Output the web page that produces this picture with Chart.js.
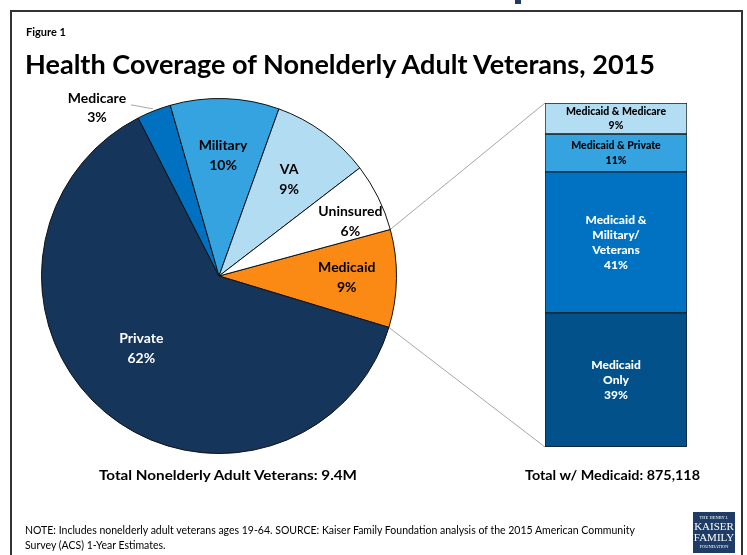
<!DOCTYPE html>
<html>
<head>
<meta charset="utf-8">
<script src="https://cdn.jsdelivr.net/npm/chart.js@4.4.1/dist/chart.umd.min.js"></script>
<style>
  body { margin: 0; background: #fff; font-family: Lato, "Open Sans", sans-serif; }
  #page { position: relative; width: 747px; height: 555px; overflow: hidden; background: #fff; }
  .abs { position: absolute; white-space: nowrap; }
  #frame { position: absolute; left: 10px; top: 10px; width: 729px; height: 560px; border: 2px solid #333; }
  #figno { left: 26px; top: 25px; font-size: 11px; font-weight: bold; color: #000; }
  #title { left: 25px; top: 47px; font-size: 27px; font-weight: bold; color: #000; transform-origin: left top; }
  #totalL { left: 99px; top: 467px; font-size: 13px; font-weight: bold; transform-origin: left top; }
  #totalR { left: 525px; top: 467px; font-size: 13px; font-weight: bold; transform-origin: left top; }
  #note { left: 25px; top: 523px; font-size: 10.5px; line-height: 15px; color: #000; transform-origin: left top; }
  #logo { left: 693px; top: 512px; width: 42px; height: 41px; background: #1e3c66; color: #fff;
          font-family: "Liberation Serif", serif; text-align: center; }
  #logo .s { font-size: 4.5px; line-height: 6px; margin-top: 3px; }
  #logo .b { font-size: 11px; line-height: 11px; }
  #topcut { left: 515px; top: 0; width: 6px; height: 4px; background: #1e3c66; }
  canvas { position: absolute; }
</style>
</head>
<body>
<div id="page">
  <canvas id="lines" width="747" height="555" style="left:0;top:0"></canvas>
  <div id="frame"></div>
  <div class="abs" id="topcut"></div>
  <div class="abs" id="figno">Figure 1</div>
  <div class="abs" id="title">Health Coverage of Nonelderly Adult Veterans, 2015</div>
  <canvas id="pie" width="380" height="380" style="left:29px;top:86px"></canvas>
  <canvas id="bar" width="142" height="344" style="left:545px;top:103px"></canvas>
  <div class="abs" id="totalL">Total Nonelderly Adult Veterans: 9.4M</div>
  <div class="abs" id="totalR">Total w/ Medicaid: 875,118</div>
  <div class="abs" id="note">NOTE: Includes nonelderly adult veterans ages 19-64. SOURCE: Kaiser Family Foundation analysis of the 2015 American Community<br>Survey (ACS) 1-Year Estimates.</div>
  <div class="abs" id="logo"><div class="s">THE HENRY J.</div><div class="b">KAISER</div><div class="b">FAMILY</div><div class="s" style="margin-top:1px">FOUNDATION</div></div>
</div>
<script>
// pie: all nonelderly adult veterans (share, %)
const pieLabels = ["Medicaid", "Private", "Medicare", "Military", "VA", "Uninsured"];
const pieValues = [8.9, 62.8, 3.1, 9.9, 9.1, 6.2];
const pieText = ["9%", "62%", "3%", "10%", "9%", "6%"];
const pieColors = ["#fb8a15", "#15355a", "#0071c1", "#34a3e0", "#b1dcf2", "#ffffff"];

// bar: veterans with Medicaid, bottom to top
const barLabels = [["Medicaid", "Only"], ["Medicaid &", "Military/", "Veterans"], ["Medicaid & Private"], ["Medicaid & Medicare"]];
const barValues = [39, 41, 11, 9];
const barText = ["39%", "41%", "11%", "9%"];
const barColors = ["#03518a", "#0072c1", "#34a3e0", "#b3ddf3"];
const barTextColors = ["#fff", "#fff", "#000", "#000"];

// where each pie label sits: radius factor and angle shift (deg)
const pieLabelPos = [[0.72, 0], [0.6, 7], [null, 0], [0.68, 0], [0.67, 0], [0.8, 4]];
const pieTextColors = ["#000", "#fff", "#000", "#000", "#000", "#000"];

const pieLabelPlugin = {
  id: "pieLabels",
  afterDatasetsDraw(chart) {
    const ctx = chart.ctx;
    const arcs = chart.getDatasetMeta(0).data;
    ctx.save();
    ctx.font = "bold 14px Lato";
    ctx.textAlign = "center";
    ctx.textBaseline = "middle";
    arcs.forEach((arc, i) => {
      const mid = (arc.startAngle + arc.endAngle) / 2;
      const r = arc.outerRadius;
      const pos = pieLabelPos[i];
      if (pos[0] === null) {
        // outside label with a leader line (Medicare)
        const px = arc.x + r * Math.cos(mid), py = arc.y + r * Math.sin(mid);
        ctx.strokeStyle = "#a6a6a6";
        ctx.lineWidth = 1;
        ctx.beginPath();
        ctx.moveTo(px - 1, py - 2);
        ctx.lineTo(px - 23, py - 6);
        ctx.stroke();
        ctx.fillStyle = pieTextColors[i];
        ctx.fillText(pieLabels[i], px - 57, py - 12);
        ctx.fillText(pieText[i], px - 57, py + 7);
        return;
      }
      const a = mid + pos[1] * Math.PI / 180;
      const lx = arc.x + r * pos[0] * Math.cos(a);
      const ly = arc.y + r * pos[0] * Math.sin(a);
      ctx.fillStyle = pieTextColors[i];
      ctx.fillText(pieLabels[i], lx, ly - 10);
      ctx.fillText(pieText[i], lx, ly + 10);
    });
    ctx.restore();
  }
};

const barLabelPlugin = {
  id: "barLabels",
  afterDatasetsDraw(chart) {
    const ctx = chart.ctx;
    ctx.save();
    ctx.textAlign = "center";
    ctx.textBaseline = "middle";
    chart.data.datasets.forEach((ds, i) => {
      const bar = chart.getDatasetMeta(i).data[0];
      const lines = barLabels[i].concat([barText[i]]);
      const lh = i < 2 ? 15 : 14.5;
      ctx.font = i < 2 ? "900 12px Lato" : "900 10.5px Lato";
      ctx.fillStyle = barTextColors[i];
      const cy = (bar.y + bar.base) / 2;
      lines.forEach((t, k) => {
        ctx.fillText(t, bar.x, cy + (k - (lines.length - 1) / 2) * lh);
      });
    });
    ctx.restore();
  }
};

const pieChart = new Chart(document.getElementById("pie"), {
  type: "pie",
  data: {
    labels: pieLabels,
    datasets: [{
      data: pieValues,
      backgroundColor: pieColors,
      borderColor: "#111",
      borderWidth: 1
    }]
  },
  options: {
    responsive: false,
    animation: false,
    rotation: 74.8,
    layout: { padding: 12 },
    plugins: { legend: { display: false }, tooltip: { enabled: false } }
  },
  plugins: [pieLabelPlugin]
});

const barChart = new Chart(document.getElementById("bar"), {
  type: "bar",
  data: {
    labels: ["Medicaid"],
    datasets: barValues.map((v, i) => ({
      label: barLabels[i].join(" "),
      data: [v],
      backgroundColor: barColors[i],
      borderColor: "#1b1b1b",
      borderWidth: 1,
      borderSkipped: false,
      categoryPercentage: 1,
      barPercentage: 1
    }))
  },
  options: {
    responsive: false,
    animation: false,
    layout: { padding: 0 },
    scales: {
      x: { stacked: true, display: false },
      y: { stacked: true, display: false, min: 0, max: 100 }
    },
    plugins: { legend: { display: false }, tooltip: { enabled: false } }
  },
  plugins: [barLabelPlugin]
});

// connector lines from the Medicaid slice to the bar
function drawConnectors() {
  const ctx = document.getElementById("lines").getContext("2d");
  const pc = document.getElementById("pie"), bc = document.getElementById("bar");
  const arc = pieChart.getDatasetMeta(0).data[0];
  const r = arc.outerRadius;
  const ox = pc.offsetLeft, oy = pc.offsetTop;
  const p1 = [ox + arc.x + r * Math.cos(arc.startAngle), oy + arc.y + r * Math.sin(arc.startAngle)];
  const p2 = [ox + arc.x + r * Math.cos(arc.endAngle), oy + arc.y + r * Math.sin(arc.endAngle)];
  const top = barChart.getDatasetMeta(barValues.length - 1).data[0];
  const bottom = barChart.getDatasetMeta(0).data[0];
  const bx = bc.offsetLeft + top.x - top.width / 2;
  ctx.strokeStyle = "#a6a6a6";
  ctx.lineWidth = 1;
  ctx.beginPath();
  ctx.moveTo(p1[0], p1[1]);
  ctx.lineTo(bx, bc.offsetTop + top.y);
  ctx.moveTo(p2[0], p2[1]);
  ctx.lineTo(bx, bc.offsetTop + bottom.base);
  ctx.stroke();
}
drawConnectors();

// squeeze text to the widths seen in the figure
function fit(id, w) {
  const el = document.getElementById(id);
  const s = w / el.getBoundingClientRect().width;
  el.style.transform = "scaleX(" + s + ")";
}
document.fonts.ready.then(() => {
  fit("title", 630);
  fit("totalL", 258);
  fit("totalR", 175);
});
</script>
</body>
</html>
